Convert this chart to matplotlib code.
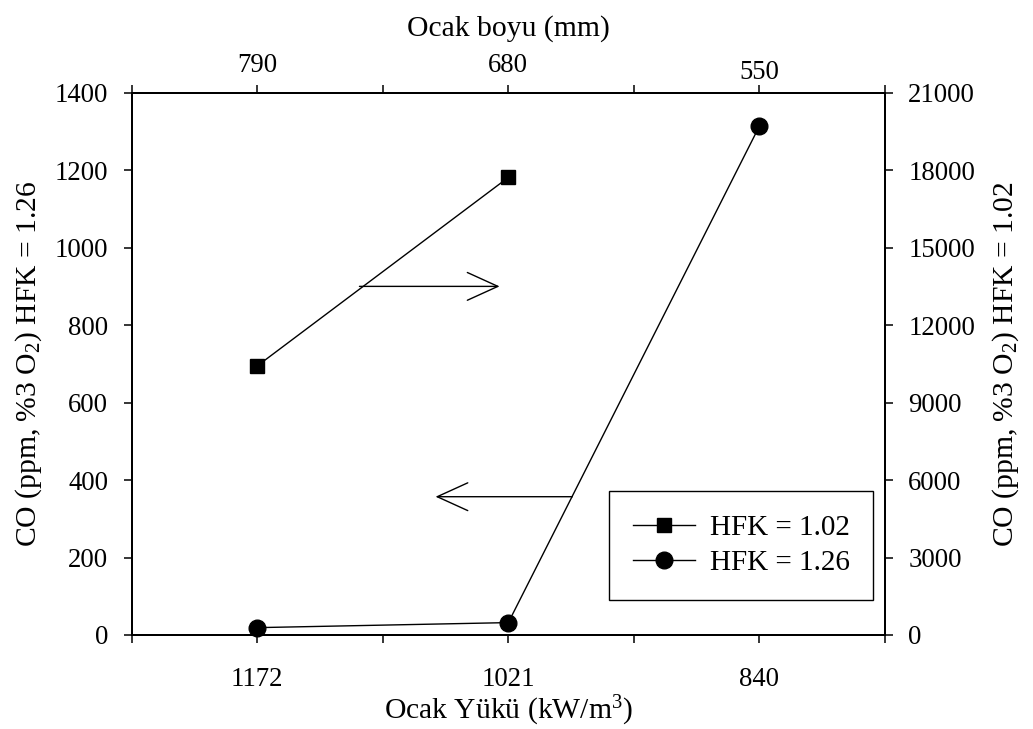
import matplotlib
matplotlib.use("Agg")
import matplotlib.pyplot as plt
from matplotlib.patches import FancyArrowPatch
from matplotlib.lines import Line2D
import matplotlib.transforms as mtransforms

plt.rcParams['font.family'] = ['Liberation Serif', 'DejaVu Serif']
plt.rcParams['mathtext.fontset'] = 'custom'
plt.rcParams['mathtext.rm'] = 'Liberation Serif'
plt.rcParams['mathtext.it'] = 'Liberation Serif:italic'
plt.rcParams['mathtext.default'] = 'regular'

# ---- data ----
load_labels = ['1172', '1021', '840']          # Ocak Yükü (kW/m3)
length_labels = ['790', '680', '550']          # Ocak boyu (mm)
co_hfk126 = [19, 32, 1314]                     # left axis
co_hfk102 = [10420, 17720]                     # right axis (only first two loads)

positions = list(range(1, len(load_labels) + 1))

W, H = 1033, 729
fig = plt.figure(figsize=(W / 100, H / 100), dpi=100)
ax = fig.add_axes([131.7 / W, 1 - 635 / H, (885 - 131.7) / W, (635 - 92.7) / H])
ax2 = ax.twinx()
ax3 = ax.twiny()

spine_lw = 1.4
tick_len = 5.8
tick_w = 1.1
fs_tick = 19.3
fs_label = 21.3

# series
l1, = ax.plot(positions, co_hfk126, color='black', lw=1.0, marker='o',
              markersize=12, markerfacecolor='black', markeredgecolor='black',
              clip_on=False, zorder=3)
l2, = ax2.plot(positions[:len(co_hfk102)], co_hfk102, color='black', lw=1.0,
               marker='s', markersize=10.5, markerfacecolor='black',
               markeredgecolor='black', clip_on=False, zorder=3)

ax.set_xlim(0.5, 3.5)
ax.set_ylim(0, 1400)
ax2.set_ylim(0, 21000)
ax3.set_xlim(0.5, 3.5)

ax.set_yticks(range(0, 1401, 200))
ax2.set_yticks(range(0, 21001, 3000))

ax.set_xticks(positions)
ax.set_xticklabels(load_labels)
ax.set_xticks([0.5, 1.5, 2.5, 3.5], minor=True)
ax3.set_xticks(positions)
ax3.set_xticklabels(length_labels)
ax3.set_xticks([0.5, 1.5, 2.5, 3.5], minor=True)

for a in (ax, ax2, ax3):
    for s in a.spines.values():
        s.set_linewidth(spine_lw)
    a.tick_params(which='both', direction='out', length=tick_len, width=tick_w,
                  labelsize=fs_tick, colors='black')

ax.tick_params(axis='x', which='major', pad=17)
ax.tick_params(axis='y', which='major', pad=11)
ax2.tick_params(axis='y', which='major', pad=11)
ax3.tick_params(axis='x', which='major', pad=5)

ax.set_xlabel('Ocak Yükü (kW/m$^{3}$)', fontsize=fs_label, labelpad=1.5)
ax.set_ylabel('CO (ppm, %3 O$_{2}$) HFK = 1.26', fontsize=fs_label, labelpad=8)
ax2.set_ylabel('CO (ppm, %3 O$_{2}$) HFK = 1.02', fontsize=fs_label, labelpad=11)
ax3.set_xlabel('Ocak boyu (mm)', fontsize=fs_label, labelpad=12)

# 550 label sits slightly lower in the reference
lab = ax3.get_xticklabels()[2]
lab.set_transform(lab.get_transform() +
                  mtransforms.ScaledTranslation(0, -5 / 72, fig.dpi_scale_trans))

# arrows indicating axes
arr1 = FancyArrowPatch((1.407, 900), (1.965, 900), arrowstyle='->,head_length=22,head_width=10',
                       mutation_scale=1, lw=1.0, color='black', shrinkA=0, shrinkB=0)
arr2 = FancyArrowPatch((2.255, 357), (1.71, 357), arrowstyle='->,head_length=22,head_width=10',
                       mutation_scale=1, lw=1.0, color='black', shrinkA=0, shrinkB=0)
ax.add_patch(arr1)
ax.add_patch(arr2)

handles = [
    Line2D([], [], color='black', lw=1.0, marker='s', markersize=10.5),
    Line2D([], [], color='black', lw=1.0, marker='o', markersize=12),
]
leg = ax3.legend(handles, ['HFK = 1.02', 'HFK = 1.26'], loc='upper left',
                 bbox_to_anchor=(609.3 / W, 1 - 491 / H), bbox_transform=fig.transFigure,
                 borderaxespad=0, fontsize=21, frameon=True, fancybox=False,
                 edgecolor='black', framealpha=1, borderpad=0.82, labelspacing=0.28,
                 handlelength=2.12, handletextpad=0.5)
leg.get_frame().set_linewidth(1.0)

fig.savefig('out.png', dpi=100)
